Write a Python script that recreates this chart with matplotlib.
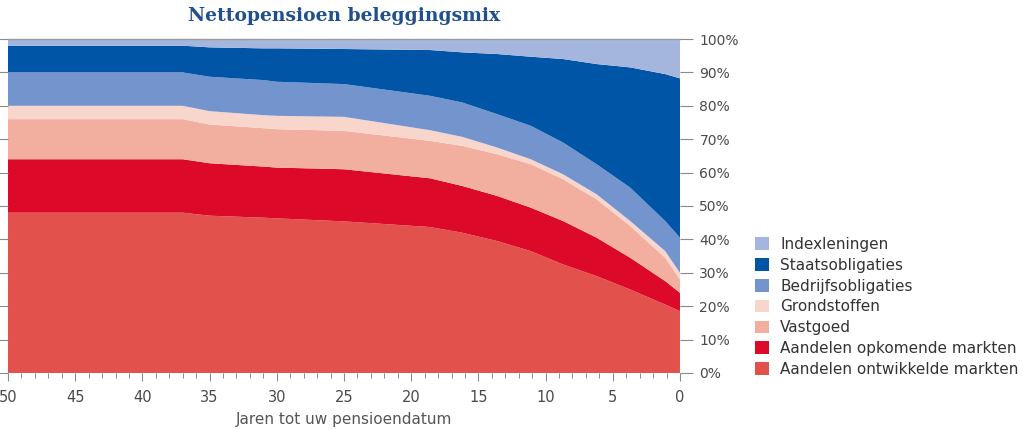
import matplotlib
matplotlib.use("Agg")
import matplotlib.pyplot as plt
from matplotlib.ticker import MultipleLocator, FuncFormatter

# Years until retirement (x) and allocation per asset class (% of portfolio)
years = [50, 37, 35, 31, 30, 25, 18.6, 16.2, 13.6, 11.1, 8.7, 6.2, 3.7, 1.1, 0]

ontwikkelde = [48, 48, 47.1, 46.5, 46.3, 45.4, 43.7, 42.0, 39.5, 36.5, 32.5, 29.0, 25.0, 20.5, 18.5]
opkomende = [16, 16, 15.7, 15.3, 15.2, 15.6, 14.6, 14.0, 13.5, 13.0, 13.0, 11.5, 9.5, 7.0, 5.5]
vastgoed = [12, 12, 11.6, 11.5, 11.5, 11.5, 11.2, 12.0, 12.5, 13.0, 12.5, 11.5, 9.5, 7.0, 4.0]
grondstoffen = [4, 4, 4.0, 3.9, 4.0, 4.2, 3.2, 2.7, 2.0, 1.5, 1.5, 1.5, 1.5, 2.0, 2.0]
bedrijfsobl = [10, 10, 10.3, 10.5, 10.2, 9.8, 10.3, 10.3, 10.0, 10.0, 9.5, 9.0, 10.0, 9.0, 10.5]
staatsobl = [8, 8, 8.8, 9.5, 10.0, 10.5, 13.7, 15.0, 18.0, 20.7, 25.0, 30.0, 36.0, 44.0, 47.7]
indexleningen = [2, 2, 2.5, 2.8, 2.8, 3.0, 3.3, 4.0, 4.5, 5.3, 6.0, 7.5, 8.5, 10.5, 11.8]

labels = ["Aandelen ontwikkelde markten", "Aandelen opkomende markten", "Vastgoed",
          "Grondstoffen", "Bedrijfsobligaties", "Staatsobligaties", "Indexleningen"]
colors = ["#e2514c", "#dc0a28", "#f2ae9f", "#f8d6cc", "#7394cc", "#0055a6", "#a5b6de"]

x_ticks = [50, 45, 40, 35, 30, 25, 20, 15, 10, 5, 0]
y_ticks = [0, 10, 20, 30, 40, 50, 60, 70, 80, 90, 100]

title = "Nettopensioen beleggingsmix"
xlabel = "Jaren tot uw pensioendatum"

fig = plt.figure(figsize=(10.23, 4.30), dpi=100)
ax = fig.add_axes([0.0078, 0.1326, 0.6569, 0.7767])

series = [ontwikkelde, opkomende, vastgoed, grondstoffen, bedrijfsobl, staatsobl, indexleningen]
polys = ax.stackplot(years, *series, colors=colors, labels=labels, linewidth=0)

ax.set_xlim(50, 0)
ax.set_ylim(0, 100)

ax.set_xticks(x_ticks)
ax.xaxis.set_minor_locator(MultipleLocator(1))
ax.set_yticks(y_ticks)
ax.yaxis.set_major_formatter(FuncFormatter(lambda v, p: f"{int(v)}%"))

tick_color = "#8a8a8a"
label_color = "#4a4a4a"
ax.tick_params(axis="y", which="both", left=True, right=True, labelleft=False, labelright=True,
               direction="out", length=9, width=0.8, color=tick_color, labelcolor=label_color,
               labelsize=10, pad=5)
ax.tick_params(axis="x", which="major", direction="out", length=6, width=0.8, color=tick_color,
               labelcolor=label_color, labelsize=10.5, pad=6)
ax.tick_params(axis="x", which="minor", direction="out", length=3.5, width=0.7, color=tick_color)

for s in ["left", "right", "bottom"]:
    ax.spines[s].set_visible(False)
ax.spines["top"].set_color("#9a9a9a")
ax.spines["top"].set_linewidth(1.0)

ax.set_xlabel(xlabel, fontsize=11, color="#555555", labelpad=5)

fig.text(0.336, 0.962, title, ha="center", va="center", fontsize=13.5, fontweight="bold",
         color="#1f4f8c", family="DejaVu Serif")

handles = polys[::-1]
leg = fig.legend(handles, labels[::-1], loc="upper left", bbox_to_anchor=(0.738, 0.449),
                 frameon=False, fontsize=11, handlelength=0.9, handleheight=0.9,
                 handletextpad=0.75, labelspacing=0.38, borderpad=0, borderaxespad=0)
for t in leg.get_texts():
    t.set_color("#333333")

fig.savefig("out.png", dpi=100)
